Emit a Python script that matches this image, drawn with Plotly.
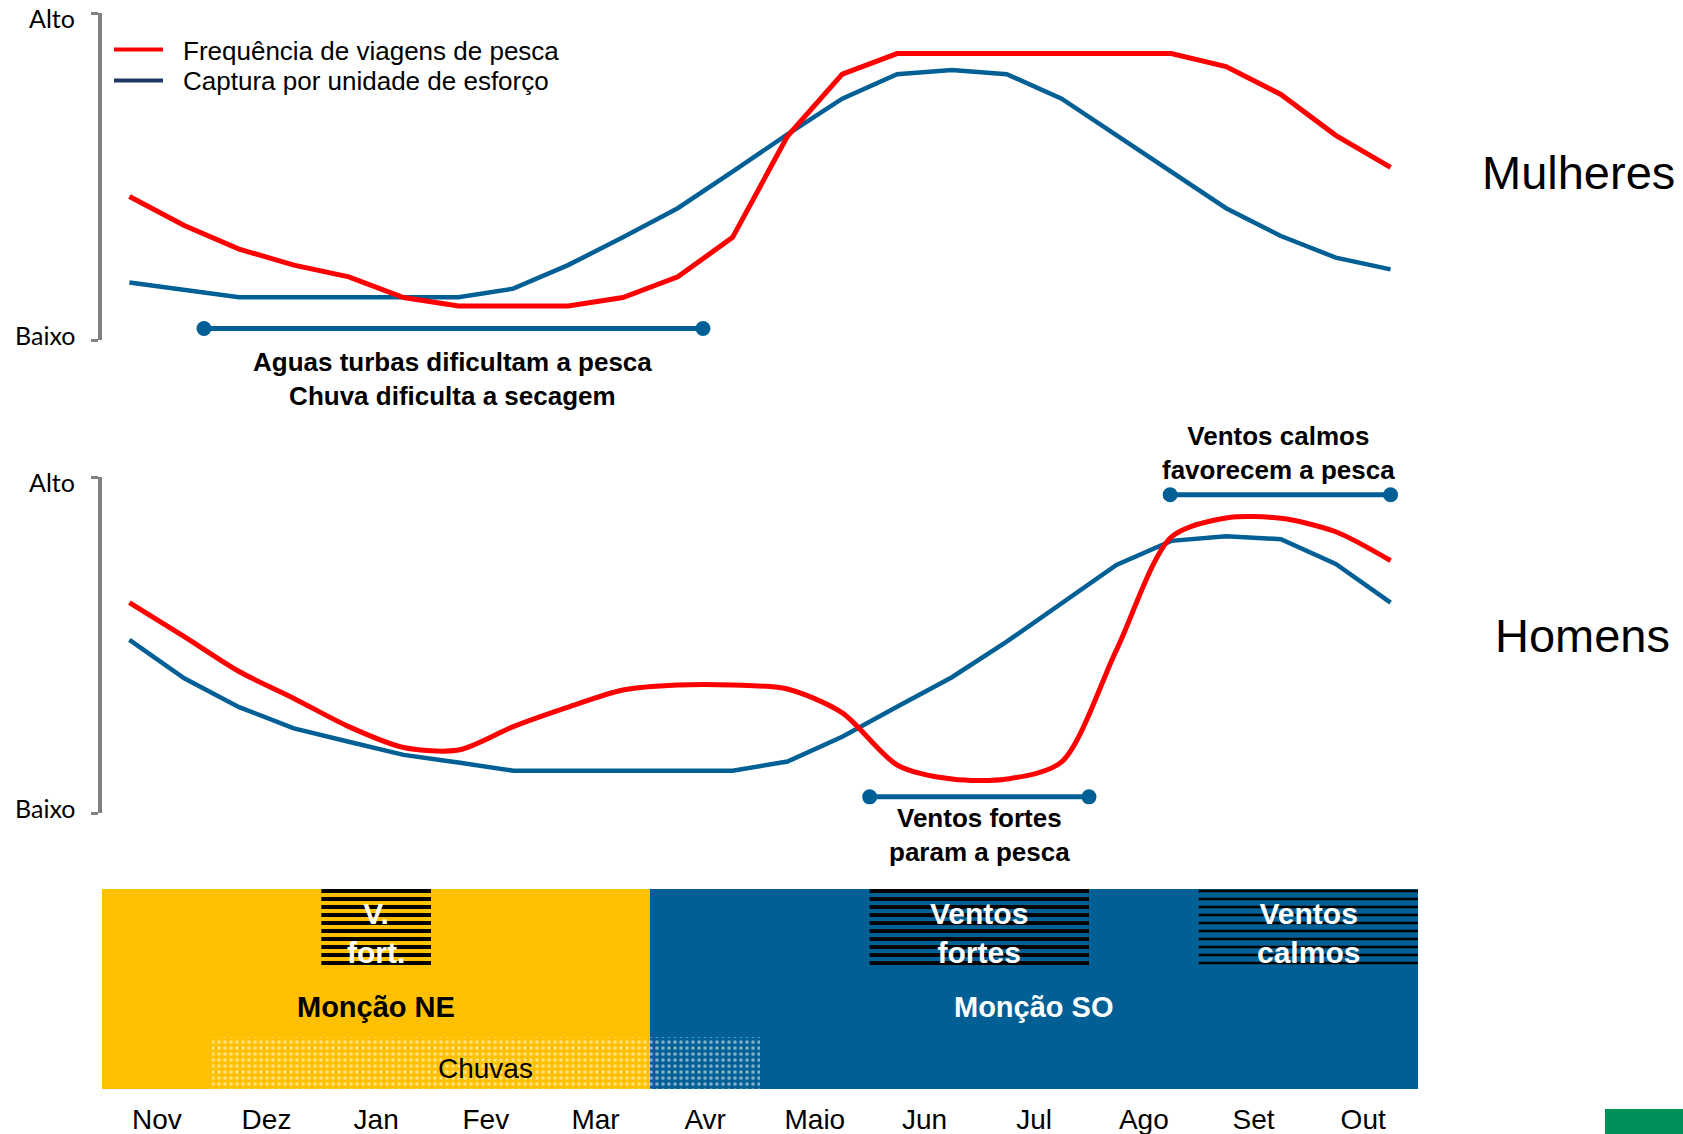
import plotly.graph_objects as go

W, H = 1683, 1134

# ---------------- data ----------------
months = ["Nov", "Dez", "Jan", "Fev", "Mar", "Avr", "Maio", "Jun", "Jul", "Ago", "Set", "Out"]
month_centers = [0.5, 1.5, 2.5, 3.5, 4.5, 5.5, 6.5, 7.5, 8.5, 9.5, 10.5, 11.5]
x_half = [0.25, 0.75, 1.25, 1.75, 2.25, 2.75, 3.25, 3.75, 4.25, 4.75, 5.25, 5.75,
          6.25, 6.75, 7.25, 7.75, 8.25, 8.75, 9.25, 9.75, 10.25, 10.75, 11.25, 11.75]

women_trips = [43.9, 35.0, 27.8, 22.9, 19.3, 13.0, 10.4, 10.4, 10.4, 13.0, 19.3, 31.4,
               62.3, 81.3, 87.6, 87.6, 87.6, 87.6, 87.6, 87.6, 83.6, 75.1, 62.6, 52.8]
women_cpue = [17.6, 15.4, 13.1, 13.1, 13.1, 13.1, 13.1, 15.7, 22.9, 31.4, 40.3, 51.5,
              62.9, 73.8, 81.3, 82.6, 81.3, 73.8, 62.6, 51.5, 40.3, 31.8, 25.2, 21.6]
men_trips = [62.6, 52.5, 42.1, 34.1, 25.7, 19.5, 18.75, 25.7, 31.5, 36.6, 38.1, 38.1,
             36.9, 29.8, 14.3, 10.1, 10.1, 15.2, 48.5, 82.1, 87.8, 87.7, 83.7, 75.1]
men_cpue = [51.5, 40.1, 31.5, 25.2, 21.2, 17.3, 15.0, 12.6, 12.6, 12.6, 12.6, 12.6,
            15.3, 22.7, 31.6, 40.4, 51.0, 62.4, 73.8, 81.0, 82.4, 81.5, 74.1, 62.6]

series_names = ["Frequência de viagens de pesca", "Captura por unidade de esforço"]
level_labels = ["Baixo", "Alto"]

# period notes
note_start = [0.93, 7.0, 9.74]
note_end = [5.48, 9.0, 11.75]
note_level = [3.5, 4.8, 94.7]
note_axis = ["y", "y2", "y2"]
note_text = ["Aguas turbas dificultam a pesca<br>Chuva dificulta a secagem",
             "Ventos fortes<br>param a pesca",
             "Ventos calmos<br>favorecem a pesca"]
note_text_x = [3.2, 8.0, 10.73]
note_text_px = [379, 835, 453]   # vertical centre of the text block (pixels)

# season band
monsoon_names = ["Monção NE", "Monção SO"]
monsoon_start = [0, 5]
monsoon_end = [5, 12]
wind_labels = ["V.<br>fort.", "Ventos<br>fortes", "Ventos<br>calmos"]
wind_start = [2, 7, 10]
wind_end = [3, 9, 12]
rain_label = "Chuvas"
rain_start, rain_end = 1, 6

# ---------------- styling ----------------
RED = "#FF0000"
BLUE = "#006096"
NAVY = "#1F3864"
YELLOW = "#FFC000"
GRAY = "#808080"
ARIAL = "Arial, Liberation Sans, sans-serif"
CAL = "Lato, Carlito, sans-serif"

BAND_TOP, BAND_BOT = 889, 1089
PANELS = [(13, 340), (477, 813)]   # (top px, bottom px) of the two line panels


def py(p):
    return 1 - p / H


def px(p):
    return p / W


def band_y(p):
    return (BAND_BOT - p) / (BAND_BOT - BAND_TOP)


X0, X1 = 102, 1418
dom_x = [px(X0), px(X1)]

fig = go.Figure()

# band (monsoons)
mcolors = [YELLOW, BLUE]
for s, e, c in zip(monsoon_start, monsoon_end, mcolors):
    fig.add_trace(go.Bar(x=[(s + e) / 2], width=[e - s], base=[0], y=[1],
                         xaxis="x", yaxis="y3", marker=dict(color=c, line=dict(width=0)),
                         showlegend=False, hoverinfo="skip"))
# rain dots
fig.add_trace(go.Bar(x=[(rain_start + rain_end) / 2], width=[rain_end - rain_start],
                     base=[0], y=[band_y(1037)], xaxis="x", yaxis="y3",
                     marker=dict(color="rgba(0,0,0,0)", line=dict(width=0),
                                 pattern=dict(shape=".", fgcolor="white", fillmode="overlay",
                                              size=6, solidity=0.3)),
                     showlegend=False, hoverinfo="skip"))

# lines: women (top)
fig.add_trace(go.Scatter(x=x_half, y=women_cpue, mode="lines", name=series_names[1],
                         line=dict(color=BLUE, width=4.5), xaxis="x", yaxis="y",
                         showlegend=False))
fig.add_trace(go.Scatter(x=x_half, y=women_trips, mode="lines", name=series_names[0],
                         line=dict(color=RED, width=5), xaxis="x", yaxis="y",
                         showlegend=False))
# men (bottom)
fig.add_trace(go.Scatter(x=x_half, y=men_cpue, mode="lines", name=series_names[1],
                         line=dict(color=BLUE, width=4.5), xaxis="x", yaxis="y2",
                         showlegend=False))
fig.add_trace(go.Scatter(x=x_half, y=men_trips, mode="lines", name=series_names[0],
                         line=dict(color=RED, width=5, shape="spline", smoothing=0.8),
                         xaxis="x", yaxis="y2", showlegend=False))

# note bars
for s, e, lv, ax in zip(note_start, note_end, note_level, note_axis):
    fig.add_trace(go.Scatter(x=[s, e], y=[lv, lv], mode="lines+markers",
                             line=dict(color=BLUE, width=5),
                             marker=dict(color=BLUE, size=15),
                             xaxis="x", yaxis=ax, showlegend=False, hoverinfo="skip"))

annotations = []
shapes = []

for t, tx, tp in zip(note_text, note_text_x, note_text_px):
    annotations.append(dict(text="<b>" + t + "</b>", x=tx, y=py(tp), xref="x", yref="paper",
                            showarrow=False, font=dict(family=ARIAL, size=26, color="black"),
                            xanchor="center", yanchor="middle", align="center"))

# Baixo / Alto labels beside the brackets (slightly inset from the bracket ends)
for top, bot in PANELS:
    for lab, p in zip(level_labels, [bot - 5, top + 5]):
        annotations.append(dict(text=lab, x=px(77), y=py(p), xref="paper", yref="paper",
                                showarrow=False, font=dict(family=CAL, size=25, color="black"),
                                xanchor="right", yanchor="middle"))

# wind hatch boxes: horizontal black stripes (8 px period)
stripe_w = [4, 4, 2.5]
for s, e, sw in zip(wind_start, wind_end, stripe_w):
    p = BAND_TOP + 2
    while p < 971:
        shapes.append(dict(type="line", xref="x", yref="y3", x0=s, x1=e,
                           y0=band_y(p), y1=band_y(p), line=dict(color="black", width=sw),
                           layer="above"))
        p += 8

# band labels
for lab, s, e in zip(wind_labels, wind_start, wind_end):
    annotations.append(dict(text="<b>" + lab + "</b>", x=(s + e) / 2, y=band_y(933),
                            xref="x", yref="y3", showarrow=False,
                            font=dict(family=ARIAL, size=30, color="white"),
                            xanchor="center", yanchor="middle", align="center"))
mtext = ["black", "white"]
mcenter = [2.5, 8.5]
for lab, xc, c in zip(monsoon_names, mcenter, mtext):
    annotations.append(dict(text="<b>" + lab + "</b>", x=xc, y=band_y(1007), xref="x",
                            yref="y3", showarrow=False,
                            font=dict(family=ARIAL, size=29, color=c),
                            xanchor="center", yanchor="middle"))
annotations.append(dict(text=rain_label, x=3.5, y=band_y(1068), xref="x", yref="y3",
                        showarrow=False, font=dict(family=ARIAL, size=28, color="black"),
                        xanchor="center", yanchor="middle"))

# panel titles
annotations.append(dict(text="Mulheres", x=px(1578), y=py(172), xref="paper", yref="paper",
                        showarrow=False, font=dict(family=ARIAL, size=47, color="black"),
                        xanchor="center", yanchor="middle"))
annotations.append(dict(text="Homens", x=px(1582), y=py(635), xref="paper", yref="paper",
                        showarrow=False, font=dict(family=ARIAL, size=47, color="black"),
                        xanchor="center", yanchor="middle"))

# legend (custom)
leg_y = [49.5, 80.5]
leg_colors = [RED, NAVY]
for name, ly, c in zip(series_names, leg_y, leg_colors):
    shapes.append(dict(type="line", xref="paper", yref="paper", x0=px(114), x1=px(163),
                       y0=py(ly), y1=py(ly), line=dict(color=c, width=4)))
    annotations.append(dict(text=name, x=px(181), y=py(ly + 1), xref="paper", yref="paper",
                            showarrow=False, font=dict(family=ARIAL, size=26, color="black"),
                            xanchor="left", yanchor="middle"))

# green corner block
shapes.append(dict(type="rect", xref="paper", yref="paper", x0=px(1605), x1=1,
                   y0=0, y1=py(1109), fillcolor="#00915A", line=dict(width=0)))

yaxis_common = dict(range=[0, 100], showgrid=False, zeroline=False, showline=True,
                    linecolor=GRAY, linewidth=4, ticks="outside", ticklen=7, tickwidth=3,
                    tickcolor=GRAY, tickvals=[0, 100], showticklabels=False,
                    anchor="x", fixedrange=True, automargin=False)

fig.update_layout(
    width=W, height=H, autosize=False,
    margin=dict(l=0, r=0, t=0, b=0, pad=0),
    paper_bgcolor="white", plot_bgcolor="rgba(0,0,0,0)",
    barmode="overlay", bargap=0,
    showlegend=False,
    xaxis=dict(domain=dom_x, range=[0, 12], anchor="y3", showgrid=False, zeroline=False,
               showline=False, ticks="", tickvals=month_centers, ticktext=months,
               tickfont=dict(family=ARIAL, size=28, color="black"), ticklabelstandoff=11,
               ticklabeloverflow="allow", fixedrange=True, automargin=False),
    yaxis=dict(domain=[py(PANELS[0][1]), py(PANELS[0][0])], **yaxis_common),
    yaxis2=dict(domain=[py(PANELS[1][1]), py(PANELS[1][0])], **yaxis_common),
    yaxis3=dict(domain=[py(BAND_BOT), py(BAND_TOP)], range=[0, 1], visible=False, anchor="x",
                fixedrange=True, automargin=False),
    annotations=annotations,
    shapes=shapes,
)

fig.write_html("out.html",
               config={"displayModeBar": False, "staticPlot": True},
               post_script="document.body.style.margin='0';"
                           "document.body.style.overflow='hidden';")
